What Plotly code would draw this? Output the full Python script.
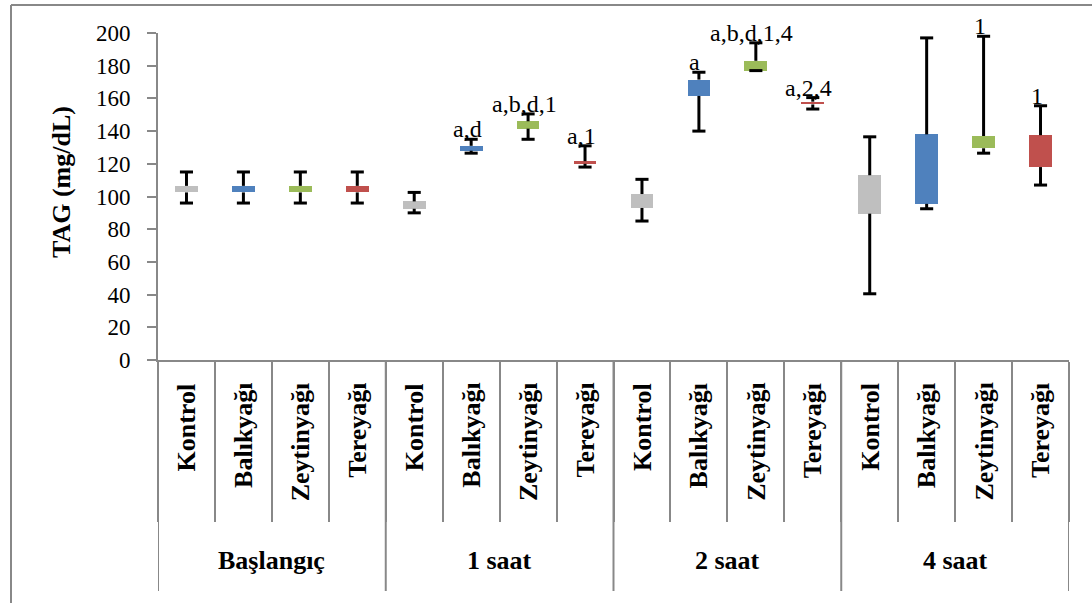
import plotly.graph_objects as go

# ---------------- data ----------------
groups = ["Başlangıç", "1 saat", "2 saat", "4 saat"]
treatments = ["Kontrol", "Balıkyağı", "Zeytinyağı", "Tereyağı"]
colors = ["#BFBFBF", "#4F81BD", "#9BBB59", "#C0504D"]

low = [96, 96, 96, 96,
       90, 126.5, 135, 118,
       85, 140, 177, 153.5,
       40.5, 92.5, 126.5, 107]
q1 = [102.5, 102.5, 102.5, 102.5,
      92.5, 128, 141.5, 120,
      93, 161.5, 177, 156.3,
      89.5, 95.5, 129.5, 118]
q3 = [106.5, 106.5, 106.5, 106.5,
      97, 131, 146, 121.6,
      101.5, 171.5, 183, 158,
      113, 138, 137, 137.5]
high = [115, 115, 115, 115,
        102.5, 135, 150.5, 131,
        110.5, 176, 194, 160.5,
        136.5, 197, 198, 155.5]
labels = ["", "", "", "",
          "", "a,d", "a,b,d,1", "a,1",
          "", "a", "a,b,d,1,4", "a,2,4",
          "", "", "1", "1"]

yticks = [0, 20, 40, 60, 80, 100, 120, 140, 160, 180, 200]

# ---------------- layout geometry ----------------
W, H = 1092, 603
L, R, T, B = 158, 1069, 33, 360
n = len(low)
xs = list(range(n))


def py(p):  # pixel y -> paper y
    return (B - p) / (B - T)


def px(p):  # pixel x -> paper x
    return (p - L) / (R - L)


fig = go.Figure()

# boxes
for k, tr in enumerate(treatments):
    idx = [i for i in xs if i % 4 == k]
    fig.add_trace(go.Bar(
        x=idx,
        y=[q3[i] - q1[i] for i in idx],
        base=[q1[i] for i in idx],
        width=0.4,
        marker=dict(color=colors[k], line=dict(width=0)),
        name=tr, showlegend=False, hoverinfo="skip",
    ))

# whiskers with caps
cap = 0.115
wx, wy = [], []
for i in xs:
    wx += [i, i, None, i - cap, i + cap, None, i, i, None, i - cap, i + cap, None]
    wy += [q3[i], high[i], None, high[i], high[i], None,
           q1[i], low[i], None, low[i], low[i], None]
fig.add_trace(go.Scatter(x=wx, y=wy, mode="lines",
                         line=dict(color="black", width=3),
                         showlegend=False, hoverinfo="skip", cliponaxis=False))

serif = "Liberation Serif"
ann = []
# significance labels
for i in xs:
    if labels[i]:
        ann.append(dict(x=i, y=high[i], xref="x", yref="y", text=labels[i],
                        showarrow=False, yanchor="middle", xshift=-4, yshift=10,
                        font=dict(family=serif, size=24, color="black")))
# treatment labels
for i in xs:
    ann.append(dict(x=i, y=py(381), xref="x", yref="paper",
                    text="<b>" + treatments[i % 4] + "</b>", textangle=-90,
                    showarrow=False, xanchor="center", yanchor="top",
                    font=dict(family=serif, size=26, color="black")))
# group labels
for g, name in enumerate(groups):
    ann.append(dict(x=4 * g + 1.5, y=py(560), xref="x", yref="paper",
                    text="<b>" + name + "</b>", showarrow=False,
                    xanchor="center", yanchor="middle",
                    font=dict(family=serif, size=26, color="black")))
# y title
ann.append(dict(x=px(61), y=py(182), xref="paper", yref="paper",
                text="<b>TAG (mg/dL)</b>", textangle=-90, showarrow=False,
                xanchor="center", yanchor="middle",
                font=dict(family=serif, size=26, color="black")))

grey = "#888888"
shapes = []
# group divider lines
for g in range(len(groups) + 1):
    shapes.append(dict(type="line", xref="x", yref="paper",
                       x0=4 * g - 0.5, x1=4 * g - 0.5, y0=py(B), y1=py(591),
                       line=dict(color=grey, width=2)))
# outer frame (left and top)
shapes.append(dict(type="line", xref="paper", yref="paper",
                   x0=px(11), x1=px(11), y0=py(5), y1=py(H + 5),
                   line=dict(color=grey, width=2)))
shapes.append(dict(type="line", xref="paper", yref="paper",
                   x0=px(11), x1=px(W + 5), y0=py(5), y1=py(5),
                   line=dict(color=grey, width=2)))

fig.update_layout(
    width=W, height=H,
    margin=dict(l=L, r=W - R, t=T, b=H - B, pad=0),
    plot_bgcolor="white", paper_bgcolor="white",
    bargap=0, barmode="overlay",
    annotations=ann, shapes=shapes,
    xaxis=dict(range=[-0.5, n - 0.5], showgrid=False, zeroline=False,
               tickmode="array", tickvals=[i - 0.5 for i in range(n + 1)],
               showticklabels=False, ticks="outside", ticklen=160,
               tickcolor=grey, tickwidth=2,
               showline=True, linecolor=grey, linewidth=2),
    yaxis=dict(range=[0, 200], showgrid=False, zeroline=False,
               tickmode="array", tickvals=yticks,
               ticks="outside", ticklen=9, tickcolor=grey, tickwidth=2,
               showline=True, linecolor=grey, linewidth=2,
               ticklabelstandoff=12,
               tickfont=dict(family=serif, size=23, color="black")),
)

fig.write_html("out.html")
